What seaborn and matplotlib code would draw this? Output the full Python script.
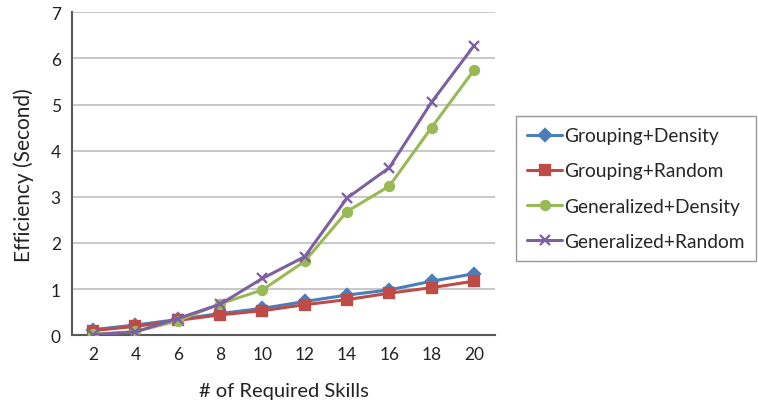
import matplotlib
matplotlib.use("Agg")
import matplotlib.pyplot as plt
import seaborn as sns
import pandas as pd

skills = [2, 4, 6, 8, 10, 12, 14, 16, 18, 20]
grouping_density = [0.12, 0.22, 0.34, 0.47, 0.58, 0.73, 0.87, 0.98, 1.17, 1.33]
grouping_random = [0.10, 0.19, 0.32, 0.44, 0.53, 0.66, 0.77, 0.91, 1.03, 1.17]
generalized_density = [0.02, 0.08, 0.31, 0.68, 0.98, 1.60, 2.68, 3.23, 4.50, 5.74]
generalized_random = [0.01, 0.07, 0.36, 0.67, 1.23, 1.70, 2.97, 3.63, 5.05, 6.27]
series_names = ["Grouping+Density", "Grouping+Random", "Generalized+Density", "Generalized+Random"]
y_ticks = [0, 1, 2, 3, 4, 5, 6, 7]

colors = ["#4A7EBB", "#BE4B48", "#98B954", "#7D60A0"]
markers = ["D", "s", "o", "x"]

rows = []
for name, vals in zip(series_names, [grouping_density, grouping_random, generalized_density, generalized_random]):
    for s, v in zip(skills, vals):
        rows.append({"skills": s, "value": v, "series": name})
df = pd.DataFrame(rows)

sns.set_theme(style="white")
plt.rcParams["font.family"] = ["Lato", "DejaVu Sans"]

fig = plt.figure(figsize=(7.58, 4.14), dpi=100)
ax = fig.add_axes([0.095, 0.188, 0.558, 0.78])

sns.pointplot(data=df, x="skills", y="value", hue="series", hue_order=series_names,
              palette=colors, markers=markers, linestyles="-", errorbar=None,
              dodge=False, ax=ax, linewidth=2.2, markersize=6.5, zorder=3)

ax.set_xlim(-0.5, len(skills) - 0.5)
ax.set_ylim(0, 7)
ax.set_yticks(y_ticks)
ax.yaxis.grid(True, color="#bfbfbf", lw=1.2)
ax.set_axisbelow(True)
ax.xaxis.grid(False)
for sp in ["top", "right"]:
    ax.spines[sp].set_visible(False)
for sp in ["left", "bottom"]:
    ax.spines[sp].set_color("#595959")
    ax.spines[sp].set_linewidth(1.5)
ax.tick_params(axis="both", labelsize=12.5, colors="#222222", length=0, pad=8)
ax.set_xlabel("# of Required Skills", fontsize=14.5, color="#222222", labelpad=14)
ax.set_ylabel("Efficiency (Second)", fontsize=15, color="#222222", labelpad=12)

handles, labels = ax.get_legend_handles_labels()
ax.get_legend().remove()
leg = fig.legend(handles, labels, loc="upper right", bbox_to_anchor=(0.997, 0.718), fontsize=13.8,
                 frameon=True, fancybox=False, edgecolor="#7f7f7f",
                 handlelength=1.8, handletextpad=0.1, labelspacing=0.95,
                 borderpad=0.6, borderaxespad=0)
leg.get_frame().set_linewidth(1.0)

fig.savefig("out.png", dpi=100)
